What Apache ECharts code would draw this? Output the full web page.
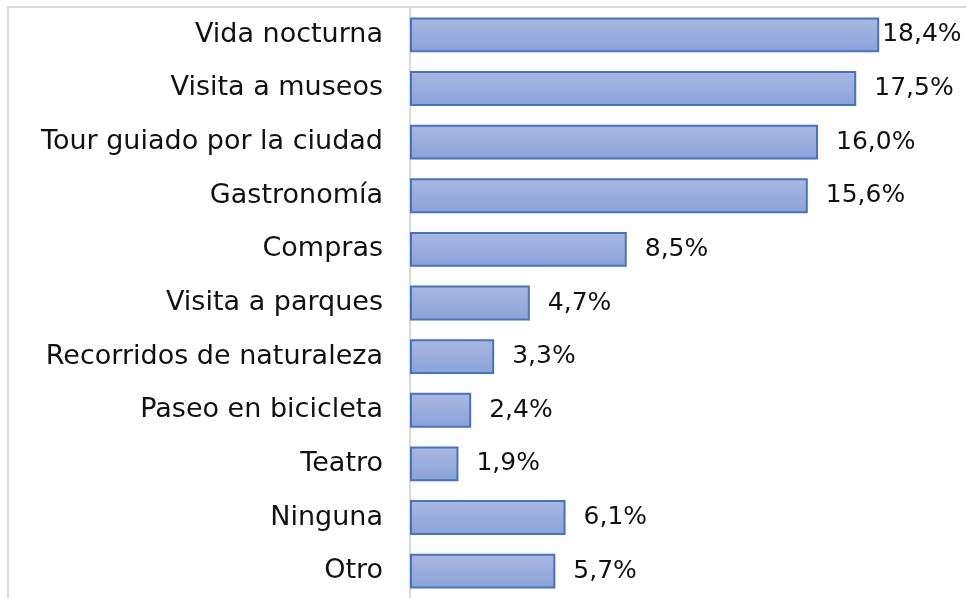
<!DOCTYPE html>
<html>
<head>
<meta charset="utf-8">
<script src="https://cdn.jsdelivr.net/npm/echarts@6/dist/echarts.min.js"></script>
<style>
    html, body { margin: 0; padding: 0; background: #fff; }
    #chart { width: 966px; height: 598px; }
</style>
</head>
<body>
<div id="chart"></div>
<script>
    // actividades (de arriba hacia abajo)
    var categories = ['Vida nocturna', 'Visita a museos', 'Tour guiado por la ciudad', 'Gastronomía', 'Compras',
        'Visita a parques', 'Recorridos de naturaleza', 'Paseo en bicicleta', 'Teatro', 'Ninguna', 'Otro'];
    var values = [18.4, 17.5, 16.0, 15.6, 8.5, 4.7, 3.3, 2.4, 1.9, 6.1, 5.7];

    var font = '"DejaVu Sans", sans-serif';

    var myChart = echarts.init(document.getElementById('chart'));

    var data = values.map(function (v, i) {
        // la primera etiqueta queda pegada a la barra
        return i === 0 ? { value: v, label: { distance: 3 } } : v;
    });

    myChart.setOption({
        animation: false,
        graphic: [{
            type: 'rect',
            shape: { x: 8, y: 7, width: 1200, height: 800 },
            style: { fill: 'none', stroke: '#D9D9D9', lineWidth: 2 },
            silent: true
        }],
        grid: { left: 410, top: 8, width: 510, height: 596 },
        xAxis: {
            type: 'value',
            min: 0,
            max: 20,
            show: false
        },
        yAxis: {
            type: 'category',
            inverse: true,
            data: categories,
            axisLine: { show: true, lineStyle: { color: '#D9D9D9', width: 2 } },
            axisTick: { show: false },
            axisLabel: { color: '#111', fontSize: 27, fontFamily: font, margin: 27 }
        },
        series: [{
            type: 'bar',
            data: data,
            barCategoryGap: '35%',
            itemStyle: {
                color: new echarts.graphic.LinearGradient(0, 0, 0, 1, [
                    { offset: 0, color: '#AAB8E1' },
                    { offset: 1, color: '#8AA2D8' }
                ]),
                borderColor: '#4472C4',
                borderWidth: 2
            },
            label: {
                show: true,
                position: 'right',
                distance: 18,
                color: '#111',
                fontSize: 25,
                fontFamily: font,
                formatter: function (p) {
                    return p.value.toFixed(1).replace('.', ',') + '%';
                }
            }
        }]
    });
</script>
</body>
</html>
